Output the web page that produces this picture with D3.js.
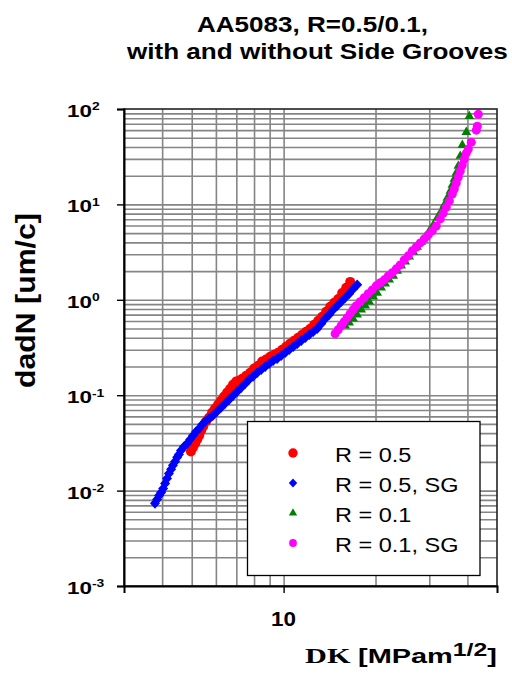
<!DOCTYPE html>
<html><head><meta charset="utf-8">
<script src="https://cdn.jsdelivr.net/npm/d3@7"></script>
<style>html,body{margin:0;padding:0;background:#fff;} svg{display:block;}</style>
</head><body><svg id="c" width="512" height="677"></svg>
<script>
// ---------- data (DK [MPa m^1/2], da/dN [um/cycle]) ----------
const seriesNames = ["R = 0.5", "R = 0.5, SG", "R = 0.1", "R = 0.1, SG"];
const r05 = [[4.97,0.0257],[5.05,0.0283],[5.13,0.0312],[5.21,0.0343],[5.29,0.0378],[5.37,0.0426],[5.45,0.0469],[5.57,0.0529],[5.70,0.0583],[5.83,0.0658],[5.96,0.0724],[6.10,0.0797],[6.24,0.0878],[6.38,0.0967],[6.53,0.1065],[6.68,0.117],[6.83,0.129],[6.99,0.139],[7.15,0.142],[7.31,0.149],[7.54,0.160],[7.77,0.172],[8.00,0.190],[8.25,0.204],[8.50,0.225],[8.76,0.236],[9.03,0.253],[9.31,0.266],[9.59,0.279],[9.89,0.300],[10.19,0.322],[10.50,0.347],[10.83,0.373],[11.16,0.400],[11.50,0.430],[11.85,0.463],[12.22,0.497],[12.59,0.548],[12.98,0.603],[13.37,0.664],[13.78,0.749],[14.21,0.845],[14.64,0.930],[15.09,1.02],[15.55,1.18],[16.03,1.34],[16.52,1.54]];
const r05sg = [[3.79,0.00735],[3.85,0.00809],[3.91,0.00891],[3.97,0.00957],[4.03,0.0105],[4.09,0.0119],[4.15,0.0134],[4.21,0.0151],[4.28,0.0167],[4.34,0.0184],[4.41,0.0202],[4.48,0.0223],[4.54,0.0239],[4.61,0.0263],[4.72,0.0290],[4.83,0.0312],[4.94,0.0343],[5.05,0.0378],[5.17,0.0416],[5.29,0.0447],[5.41,0.0493],[5.53,0.0529],[5.70,0.0569],[5.87,0.0612],[6.05,0.0674],[6.24,0.0742],[6.43,0.0817],[6.63,0.0899],[6.83,0.0990],[7.04,0.109],[7.26,0.120],[7.48,0.132],[7.71,0.146],[7.94,0.157],[8.19,0.172],[8.44,0.185],[8.70,0.199],[8.96,0.214],[9.24,0.230],[9.52,0.241],[9.82,0.260],[10.12,0.279],[10.43,0.300],[10.75,0.322],[11.08,0.347],[11.42,0.373],[11.77,0.400],[12.13,0.430],[12.50,0.463],[12.88,0.497],[13.28,0.561],[13.68,0.633],[14.10,0.697],[14.53,0.786],[14.98,0.866],[15.44,0.953],[15.91,1.05],[16.40,1.16],[16.90,1.30],[17.42,1.44]];
const r01 = [[15.91,0.535],[16.40,0.575],[16.90,0.633],[17.42,0.697],[17.96,0.786],[18.51,0.866],[19.07,0.953],[19.66,1.075],[20.26,1.18],[20.88,1.34],[21.52,1.47],[22.18,1.62],[22.86,1.78],[23.56,2.01],[24.28,2.27],[25.03,2.50],[25.80,2.82],[26.59,3.18],[27.40,3.58],[28.24,4.04],[29.11,4.56],[30.00,5.27],[30.92,6.09],[31.87,7.21],[32.85,8.53],[33.60,9.86],[34.37,11.67],[35.15,13.81],[35.69,15.96],[36.23,18.44],[36.78,21.31],[37.34,25.22],[37.91,32.09],[38.49,41.81],[39.67,57.2],[40.58,84.1]];
const r01sg = [[14.75,0.441],[15.09,0.486],[15.44,0.535],[15.79,0.589],[16.15,0.648],[16.52,0.714],[16.90,0.786],[17.29,0.866],[17.82,0.953],[18.37,1.05],[18.93,1.16],[19.51,1.27],[20.11,1.40],[20.73,1.51],[21.36,1.62],[22.02,1.78],[22.69,1.92],[23.39,2.11],[24.10,2.32],[24.84,2.62],[25.60,2.89],[26.39,3.26],[27.20,3.58],[28.03,3.95],[28.89,4.35],[29.77,4.79],[30.69,5.27],[31.63,5.94],[32.60,7.04],[33.34,8.13],[34.11,9.39],[34.89,10.85],[35.69,12.85],[36.23,14.49],[36.78,16.75],[37.34,19.35],[37.91,22.36],[38.49,25.83],[39.07,29.85],[39.67,34.49],[40.27,37.97],[41.19,44.95],[42.78,60.0],[43.10,66.1],[43.43,88.2]];

const xTickValues = [10];
const xTickLabels = ["10"];
const yTickValues = [1e-3, 1e-2, 1e-1, 1, 10, 100];
const yTickExponents = ["-3", "-2", "-1", "0", "1", "2"];
const xGridValues = [4, 5, 6, 7, 8, 9, 10, 20, 30, 40];
const titleLines = ["AA5083, R=0.5/0.1,", "with and without Side Grooves"];
const yTitle = "dadN [um/c]";

// ---------- setup ----------
const W = 512, H = 677;
const P = {l: 124, r: 497, t: 109, b: 586};
const SANS = "'Liberation Sans', Arial, Helvetica, sans-serif";
const SERIF = "'Liberation Serif', 'Times New Roman', serif";
const svg = d3.select("#c");
svg.append("rect").attr("width", W).attr("height", H).attr("fill", "#fff");

const x = d3.scaleLog().domain([3, 50]).range([P.l, P.r]);
const y = d3.scaleLog().domain([1e-3, 1e2]).range([P.b, P.t]);

const yGridValues = [];
for (let k = -3; k <= 1; k++) for (let m = 1; m <= 9; m++) {
  const v = +(m * Math.pow(10, k)).toPrecision(3);
  if (v > 1e-3) yGridValues.push(v);
}

const GRID = "#858585";
const gx = svg.append("g").attr("transform", `translate(0,${P.b})`)
  .call(d3.axisBottom(x).tickValues(xGridValues).tickSize(-(P.b - P.t)).tickFormat(""));
gx.select(".domain").remove();
gx.selectAll("line").attr("stroke", GRID).attr("stroke-width", 1.6);
const gy = svg.append("g").attr("transform", `translate(${P.l},0)`)
  .call(d3.axisLeft(y).tickValues(yGridValues).tickSize(-(P.r - P.l)).tickFormat(""));
gy.select(".domain").remove();
gy.selectAll("line").attr("stroke", GRID).attr("stroke-width", 1.6);

// ---------- markers ----------
const diamond = (w, h) => `M0,${-h}L${w},0L0,${h}L${-w},0Z`;
const tri = d3.symbol(d3.symbolTriangle, 40)();

const plot = svg.append("g");
plot.append("g").selectAll("circle").data(r05).join("circle")
  .attr("cx", d => x(d[0])).attr("cy", d => y(d[1])).attr("r", 5).attr("fill", "#ff0000");
plot.append("g").selectAll("path").data(r05sg).join("path")
  .attr("transform", d => `translate(${x(d[0])},${y(d[1])})`).attr("d", diamond(5, 5.3)).attr("fill", "#0000ff");
plot.append("g").selectAll("path").data(r01).join("path")
  .attr("transform", d => `translate(${x(d[0])},${y(d[1])})`).attr("d", tri).attr("fill", "#008000");
plot.append("g").selectAll("circle").data(r01sg).join("circle")
  .attr("cx", d => x(d[0])).attr("cy", d => y(d[1])).attr("r", 4.5).attr("fill", "#ff00ff");

// ---------- frame & axes ----------
svg.append("rect").attr("x", P.l).attr("y", P.t).attr("width", P.r - P.l).attr("height", P.b - P.t)
  .attr("fill", "none").attr("stroke", "#222").attr("stroke-width", 1.6);

const ax = svg.append("g").attr("transform", `translate(0,${P.b})`)
  .call(d3.axisBottom(x).tickValues(xTickValues).tickSize(7).tickFormat(""));
ax.select(".domain").attr("stroke", "#000").attr("stroke-width", 2);
ax.selectAll("line").attr("stroke", "#000").attr("stroke-width", 1.4);

const ay = svg.append("g").attr("transform", `translate(${P.l},0)`)
  .call(d3.axisLeft(y).tickValues(yTickValues).tickSize(7).tickFormat(""));
ay.select(".domain").attr("stroke", "#000").attr("stroke-width", 2);
ay.selectAll("line").attr("stroke", "#000").attr("stroke-width", 1.4);

// ---------- text helpers ----------
function fitted(parent, x0, y0, targetW, build, rot) {
  const g = parent.append("g");
  const t = g.append("text");
  build(t);
  const bw = t.node().getComputedTextLength();
  const sx = targetW / bw;
  g.attr("transform", `translate(${x0},${y0})${rot ? ` rotate(${rot})` : ""} scale(${sx},1)`);
  return g;
}

// y tick labels 10^n
yTickValues.forEach((v, i) => {
  const g = svg.append("g").attr("transform", `translate(67,${y(v) + 8}) scale(1.32,1)`);
  const t = g.append("text").attr("font-family", SANS).attr("font-weight", "bold").attr("fill", "#000");
  t.append("tspan").attr("font-size", 17).text("10");
  t.append("tspan").attr("font-size", 10.5).attr("dy", -6.6).text(yTickExponents[i]);
});

// x tick label
xTickValues.forEach((v, i) => {
  fitted(svg, x(v) - 12.5, 626, 25, t => t.attr("font-family", SANS).attr("font-weight", "bold")
    .attr("font-size", 21).text(xTickLabels[i]));
});

// title
fitted(svg, 197, 31.5, 231, t => t.attr("font-family", SANS).attr("font-weight", "bold").attr("font-size", 22).text(titleLines[0]));
fitted(svg, 127, 58.5, 381, t => t.attr("font-family", SANS).attr("font-weight", "bold").attr("font-size", 22).text(titleLines[1]));

// y title
fitted(svg, 35, 388, 175, t => t.attr("font-family", SANS).attr("font-weight", "bold").attr("font-size", 28).text(yTitle), -90);

// x title
fitted(svg, 305, 663, 192, t => {
  t.attr("font-weight", "bold").attr("fill", "#000");
  t.append("tspan").attr("font-family", SERIF).attr("font-size", 22).text("DK ");
  t.append("tspan").attr("font-family", SANS).attr("font-size", 21).text("[MPam");
  t.append("tspan").attr("font-family", SANS).attr("font-size", 18).attr("dy", -7).text("1/2");
  t.append("tspan").attr("font-family", SANS).attr("font-size", 21).attr("dy", 7).text("]");
});

// ---------- legend ----------
const lg = svg.append("g");
lg.append("rect").attr("x", 247.5).attr("y", 421.5).attr("width", 232.5).attr("height", 154)
  .attr("fill", "#fff").attr("stroke", "#000").attr("stroke-width", 1.3);
const rowsY = [453, 483, 513, 543];
const mx = 293;
lg.append("circle").attr("cx", mx).attr("cy", rowsY[0]).attr("r", 4.7).attr("fill", "#ff0000");
lg.append("path").attr("transform", `translate(${mx},${rowsY[1]})`).attr("d", diamond(4.2, 4.6)).attr("fill", "#0000ff");
lg.append("path").attr("transform", `translate(${mx},${rowsY[2]})`).attr("d", d3.symbol(d3.symbolTriangle, 30)()).attr("fill", "#008000");
lg.append("circle").attr("cx", mx).attr("cy", rowsY[3]).attr("r", 3.9).attr("fill", "#ff00ff");
seriesNames.forEach((s, i) => {
  const g = lg.append("g").attr("transform", `translate(335,${rowsY[i] + 9}) scale(1.12,1)`);
  g.append("text").attr("font-family", SANS).attr("font-size", 21).attr("fill", "#000").text(s);
});
</script>
</body></html>
